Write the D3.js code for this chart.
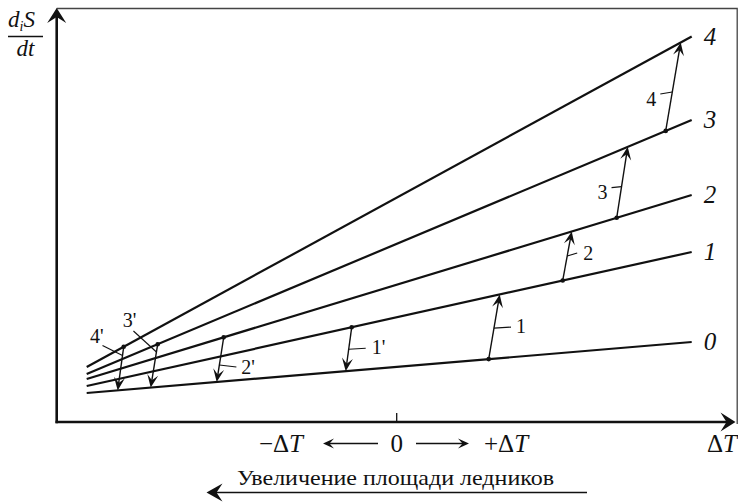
<!DOCTYPE html>
<html>
<head>
<meta charset="utf-8">
<script src="https://cdn.jsdelivr.net/npm/d3@7"></script>
<style>
  html, body { margin: 0; padding: 0; background: #fff; }
  svg { display: block; }
</style>
</head>
<body>
<svg id="chart" width="738" height="502" font-family="'Liberation Serif', 'DejaVu Serif Condensed', 'DejaVu Serif', serif"></svg>
<script>
// Lines of entropy production rate vs. temperature anomaly (one per state 0..4)
const lineNames = ["0", "1", "2", "3", "4"];
const lineX = [-3.1, 2.95];                       // ΔT range spanned by each line
const lineStartY = [2.9, 3.6, 4.3, 4.8, 5.5];     // d_iS/dt at left end
const lineEndY = [8.0, 17.0, 22.7, 30.2, 38.55];  // d_iS/dt at right end

// Transitions between states: start ΔT, end ΔT, from line, to line, label
const arrowX0 = [0.92, 1.66, 2.20, 2.69, -0.45, -1.73, -2.39, -2.73];
const arrowX1 = [1.03, 1.75, 2.31, 2.84, -0.51, -1.80, -2.46, -2.79];
const arrowFrom = [0, 1, 2, 3, 1, 2, 3, 4];
const arrowTo = [1, 2, 3, 4, 0, 0, 0, 0];
const arrowLabels = ["1", "2", "3", "4", "1'", "2'", "3'", "4'"];

// Axis domains
const xDomain = [-3.4, 3.4];
const yDomain = [0, 41.4];

const svg = d3.select("#chart");
const x = d3.scaleLinear().domain(xDomain).range([56.7, 736.7]);
const y = d3.scaleLinear().domain(yDomain).range([422, 8]);
const ink = "#111";

// value on line i at abscissa v
function onLine(i, v) {
  const t = (v - lineX[0]) / (lineX[1] - lineX[0]);
  return lineStartY[i] + t * (lineEndY[i] - lineStartY[i]);
}

// barbed arrowhead at (tx,ty) pointing along (dx,dy)
function headPath(tx, ty, dx, dy, L, W, n) {
  const len = Math.hypot(dx, dy);
  const ux = dx / len, uy = dy / len, px = -uy, py = ux;
  const p = [
    [tx, ty],
    [tx - L * ux + W * px, ty - L * uy + W * py],
    [tx - (L - n) * ux, ty - (L - n) * uy],
    [tx - L * ux - W * px, ty - L * uy - W * py]
  ];
  return "M" + p.map(d => d.join(",")).join("L") + "Z";
}

// frame
svg.append("path")
  .attr("d", `M${x(xDomain[0])},8.5H737.2V424`)
  .attr("fill", "none").attr("stroke", "#444").attr("stroke-width", 1.3);

// axes
const x0px = x(xDomain[0]), y0px = y(0);
svg.append("line").attr("x1", x0px).attr("y1", y0px + 1.2).attr("x2", x0px).attr("y2", 12)
  .attr("stroke", ink).attr("stroke-width", 2.6);
svg.append("path").attr("d", headPath(x0px, 8, 0, -1, 15, 9.5, 6)).attr("fill", ink);
svg.append("line").attr("x1", x0px - 1.2).attr("y1", y0px).attr("x2", 731).attr("y2", y0px)
  .attr("stroke", ink).attr("stroke-width", 2.6);
svg.append("path").attr("d", headPath(735.5, y0px, 1, 0, 15, 9.5, 6)).attr("fill", ink);

// zero tick
svg.append("line").attr("x1", x(0)).attr("x2", x(0)).attr("y1", y0px).attr("y2", y0px - 9)
  .attr("stroke", ink).attr("stroke-width", 1.3);

// state lines
const lineGen = d3.line().x(d => x(d[0])).y(d => y(d[1]));
lineNames.forEach((name, i) => {
  svg.append("path")
    .attr("d", lineGen([[lineX[0], lineStartY[i]], [lineX[1], lineEndY[i]]]))
    .attr("fill", "none").attr("stroke", ink).attr("stroke-width", 2.2);
  svg.append("text")
    .attr("x", x(lineX[1]) + 12).attr("y", y(lineEndY[i]) + 8)
    .attr("font-size", 25).attr("font-style", "italic").attr("fill", ink)
    .text(name);
});

// label placement for each transition: leader anchor fraction along arrow,
// leader end offset, text offset from leader end, text anchor
const labelLayout = [
  { t: 0.48, lx: 17, ly: -1, tx: 5, ty: 6, anchor: "start" },
  { t: 0.50, lx: 10, ly: -3, tx: 6, ty: 7, anchor: "start" },
  { t: 0.44, lx: -10, ly: 1, tx: -4, ty: 11, anchor: "end" },
  { t: 0.44, lx: -12, ly: 2, tx: -4, ty: 12, anchor: "end" },
  { t: 0.50, lx: 17, ly: -1, tx: 6, ty: 6, anchor: "start" },
  { t: 0.62, lx: 17, ly: 2, tx: 5, ty: 7, anchor: "start" },
  { t: 0.18, lx: -23, ly: -21, tx: 3, ty: -4, anchor: "end" },
  { t: 0.20, lx: -20, ly: -10, tx: 1, ty: -3, anchor: "end" }
];

arrowLabels.forEach((lab, k) => {
  const ax = x(arrowX0[k]), ay = y(onLine(arrowFrom[k], arrowX0[k]));
  const bx = x(arrowX1[k]), by = y(onLine(arrowTo[k], arrowX1[k]));
  const dx = bx - ax, dy = by - ay, len = Math.hypot(dx, dy);
  const sx = bx - dx / len * 7, sy = by - dy / len * 7;
  svg.append("line").attr("x1", ax).attr("y1", ay).attr("x2", sx).attr("y2", sy)
    .attr("stroke", ink).attr("stroke-width", 1.4);
  svg.append("path").attr("d", headPath(bx, by, dx, dy, 13, 5.5, 5.5)).attr("fill", ink);
  svg.append("circle").attr("cx", ax).attr("cy", ay).attr("r", 2.3).attr("fill", ink);

  const L = labelLayout[k];
  const mx = ax + dx * L.t, my = ay + dy * L.t;
  const ex = mx + L.lx, ey = my + L.ly;
  svg.append("line").attr("x1", mx).attr("y1", my).attr("x2", ex).attr("y2", ey)
    .attr("stroke", ink).attr("stroke-width", 1.1);
  svg.append("text")
    .attr("x", ex + L.tx).attr("y", ey + L.ty)
    .attr("text-anchor", L.anchor)
    .attr("font-size", 20).attr("fill", ink)
    .text(lab);
});

// y-axis title d_iS / dt
const title = svg.append("g").attr("fill", ink);
const num = title.append("text").attr("x", 8).attr("y", 27).attr("font-size", 23).attr("font-style", "italic");
num.append("tspan").text("d");
num.append("tspan").attr("font-size", 14).attr("dy", 4).text("i");
num.append("tspan").attr("dy", -4).text("S");
title.append("line").attr("x1", 8).attr("x2", 43).attr("y1", 36.5).attr("y2", 36.5)
  .attr("stroke", ink).attr("stroke-width", 1.5);
title.append("text").attr("x", 25.5).attr("y", 56).attr("font-size", 23)
  .attr("font-style", "italic").attr("text-anchor", "middle").text("dt");

// x-axis captions
function deltaT(sel, prefix) {
  if (prefix) sel.append("tspan").text(prefix);
  sel.append("tspan").text("Δ");
  sel.append("tspan").attr("font-style", "italic").text("T");
}
const capY = 452;
deltaT(svg.append("text").attr("x", 303).attr("y", capY).attr("font-size", 25)
  .attr("text-anchor", "end").attr("fill", ink), "−");
svg.append("text").attr("x", x(0)).attr("y", capY).attr("font-size", 25)
  .attr("text-anchor", "middle").attr("fill", ink).text("0");
deltaT(svg.append("text").attr("x", 484).attr("y", capY).attr("font-size", 25).attr("fill", ink), "+");
deltaT(svg.append("text").attr("x", 737).attr("y", capY).attr("font-size", 25)
  .attr("text-anchor", "end").attr("fill", ink), null);

// small direction arrows beside 0
const arY = 443.5;
svg.append("line").attr("x1", 378).attr("x2", 328).attr("y1", arY).attr("y2", arY)
  .attr("stroke", ink).attr("stroke-width", 1.4);
svg.append("path").attr("d", headPath(323, arY, -1, 0, 11, 5, 4.5)).attr("fill", ink);
svg.append("line").attr("x1", 416).attr("x2", 464).attr("y1", arY).attr("y2", arY)
  .attr("stroke", ink).attr("stroke-width", 1.4);
svg.append("path").attr("d", headPath(469, arY, 1, 0, 11, 5, 4.5)).attr("fill", ink);

// glacier area caption with long arrow
svg.append("text").attr("x", 237).attr("y", 485).attr("font-size", 22).attr("fill", ink)
  .attr("textLength", 317).attr("lengthAdjust", "spacingAndGlyphs")
  .text("Увеличение площади ледников");
svg.append("line").attr("x1", 587).attr("x2", 212).attr("y1", 492.5).attr("y2", 492.5)
  .attr("stroke", ink).attr("stroke-width", 1.6);
svg.append("path").attr("d", headPath(206.5, 492.5, -1, 0, 16, 9, 6)).attr("fill", ink);
</script>
</body>
</html>
